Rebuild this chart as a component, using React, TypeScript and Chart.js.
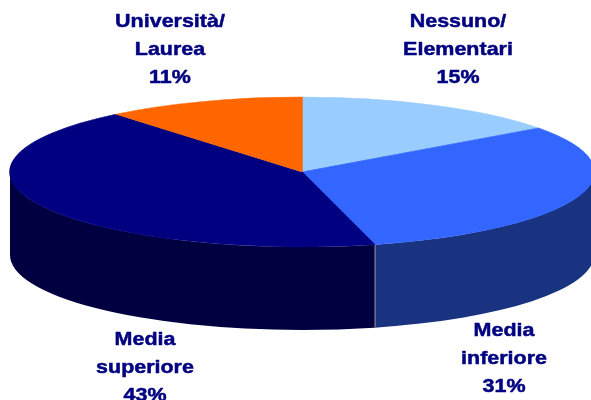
import React, { useEffect, useRef } from 'react';
import { Chart, registerables } from 'chart.js';

Chart.register(...registerables);

// ---- data ----
const categories: string[] = ['Nessuno/\nElementari', 'Media\ninferiore', 'Media\nsuperiore', 'Università/\nLaurea'];
const values: number[] = [15, 31, 43, 11];
const topColors: string[] = ['#99CCFF', '#3366FF', '#000080', '#FF6600'];
const sideColors: string[] = ['#4C6680', '#1A3380', '#000040', '#803300'];

// ---- layout ----
const CX = 302;
const CY = 172;
const RX = 292;
const RY = 75;
const DEPTH = 83;
const LABEL_ANCHORS: number[][] = [
  [458, 27],
  [504, 336],
  [145, 345],
  [170, 27],
];
const LINE_H = 28;
const TEXT_COLOR = '#000080';

const pie3d = {
  id: 'pie3d',
  beforeDatasetsDraw(chart: any) {
    const ctx: CanvasRenderingContext2D = chart.ctx;
    const arcs = chart.getDatasetMeta(0).data;
    chart.$pie3dSaved = false;
    if (!arcs.length) return;
    const a0 = arcs[0];
    const r = a0.outerRadius;
    ctx.save();
    const ranges = [
      [-2 * Math.PI, -Math.PI],
      [0, Math.PI],
      [2 * Math.PI, 3 * Math.PI],
    ];
    arcs.forEach((arc: any, i: number) => {
      ranges.forEach(([lo, hi]) => {
        const a = Math.max(arc.startAngle, lo);
        const b = Math.min(arc.endAngle, hi);
        if (b <= a) return;
        ctx.beginPath();
        ctx.ellipse(CX, CY, RX, RY, 0, a, b, false);
        ctx.ellipse(CX, CY + DEPTH, RX, RY, 0, b, a, true);
        ctx.closePath();
        ctx.fillStyle = sideColors[i];
        ctx.fill();
      });
    });
    // separators between side walls
    ctx.strokeStyle = '#6B6B80';
    ctx.lineWidth = 1;
    arcs.forEach((arc: any) => {
      let t = arc.startAngle % (2 * Math.PI);
      if (t < 0) t += 2 * Math.PI;
      if (t > 0.01 && t < Math.PI - 0.01) {
        const x = Math.round(CX + RX * Math.cos(t)) + 0.5;
        const y = CY + RY * Math.sin(t);
        ctx.beginPath();
        ctx.moveTo(x, y);
        ctx.lineTo(x, y + DEPTH);
        ctx.stroke();
      }
    });
    ctx.restore();
    // squash the top face into an ellipse
    ctx.save();
    chart.$pie3dSaved = true;
    ctx.translate(CX, CY);
    ctx.scale(RX / r, RY / r);
    ctx.translate(-a0.x, -a0.y);
  },
  afterDatasetsDraw(chart: any) {
    if (chart.$pie3dSaved) chart.ctx.restore();
    chart.$pie3dSaved = false;
  },
  afterDraw(chart: any) {
    const ctx: CanvasRenderingContext2D = chart.ctx;
    const total = values.reduce((s, v) => s + v, 0);
    ctx.save();
    ctx.fillStyle = TEXT_COLOR;
    ctx.strokeStyle = TEXT_COLOR;
    ctx.lineWidth = 0.5;
    ctx.lineJoin = 'round';
    ctx.font = 'bold 19px "Liberation Sans", Arial, sans-serif';
    ctx.textAlign = 'center';
    ctx.textBaseline = 'alphabetic';
    categories.forEach((cat, i) => {
      const lines = cat.split('\n').concat([Math.round((values[i] / total) * 100) + '%']);
      const [x, y0] = LABEL_ANCHORS[i];
      lines.forEach((ln, k) => {
        ctx.save();
        ctx.translate(x, y0 + k * LINE_H);
        ctx.scale(1.13, 1);
        ctx.fillText(ln, 0, 0);
        ctx.strokeText(ln, 0, 0);
        ctx.restore();
      });
    });
    ctx.restore();
  },
};

export default function App() {
  const ref = useRef<HTMLCanvasElement | null>(null);
  useEffect(() => {
    if (!ref.current) return;
    const chart = new Chart(ref.current, {
      type: 'pie',
      data: {
        labels: categories.map((c) => c.replace('\n', ' ')),
        datasets: [
          {
            data: values,
            backgroundColor: topColors,
            borderColor: topColors,
            borderWidth: 1,
            clip: false,
          } as any,
        ],
      },
      options: {
        animation: false,
        responsive: true,
        maintainAspectRatio: false,
        events: [],
        rotation: 0,
        layout: { padding: 0 },
        plugins: {
          legend: { display: false },
          tooltip: { enabled: false },
          title: { display: false },
        },
      },
      plugins: [pie3d],
    });
    return () => chart.destroy();
  }, []);
  return (
    <div style={{ position: 'absolute', left: 0, top: 0, width: 591, height: 400, background: '#fff' }}>
      <canvas ref={ref} />
    </div>
  );
}
